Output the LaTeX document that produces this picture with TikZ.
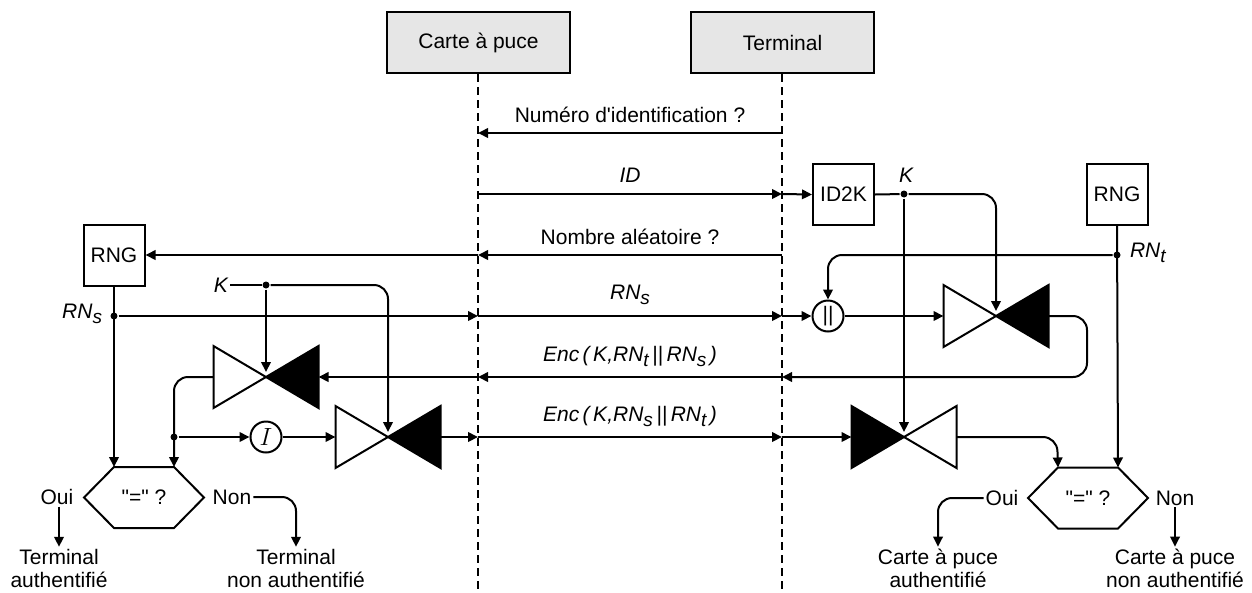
\documentclass[tikz,border=0pt]{standalone}
\usepackage{fontspec}
\setmainfont{Liberation Sans}[Ligatures=TeXOff]
\usetikzlibrary{arrows.meta,calc}
\newcommand\sbs[1]{\raisebox{-5pt}{\fontsize{19}{19}\selectfont #1}}
\definecolor{hdrgray}{RGB}{230,230,230}
\tikzset{
  hdr/.style={draw, fill=hdrgray, minimum width=183pt, minimum height=61pt, inner sep=0pt},
  blk/.style={draw, fill=white, minimum width=61pt, minimum height=61pt, inner sep=0pt},
  jdot/.style={circle, fill=black, inner sep=0pt, minimum size=7pt},
  opc/.style={circle, draw, fill=white, minimum size=31pt, inner sep=0pt},
  lbl/.style={inner sep=1pt},
  lifeline/.style={dash pattern=on 8pt off 5pt},
  enc/.pic={
    \draw[fill=white] (-52.5,-31) -- (-52.5,31) -- (0,0) -- cycle;
    \draw[fill=black] (52.5,-31) -- (52.5,31) -- (0,0) -- cycle;
    \coordinate (-l) at (-52.5,0);
    \coordinate (-r) at (52.5,0);
    \coordinate (-top) at (0,-5);
  },
  dec/.pic={
    \draw[fill=black] (-52.5,-31) -- (-52.5,31) -- (0,0) -- cycle;
    \draw[fill=white] (52.5,-31) -- (52.5,31) -- (0,0) -- cycle;
    \coordinate (-l) at (-52.5,0);
    \coordinate (-r) at (52.5,0);
    \coordinate (-top) at (0,-5);
  },
  hexa/.pic={
    \draw (-30,-30.5) -- (30,-30.5) -- (60,0) -- (30,30.5) -- (-30,30.5) -- (-60,0) -- cycle;
    \coordinate (-tl) at (-30,-30.5);
    \coordinate (-tr) at (30,-30.5);
  }
}
\begin{document}
\begin{tikzpicture}[x=1pt,y=-1pt, line width=2pt, line join=miter,
  >={Triangle[length=10pt,width=9.5pt]},
  font=\fontsize{21}{23}\selectfont, rounded corners=0pt]
\useasboundingbox (0,0) rectangle (1252,592);

% headers and lifelines
\node[hdr] (cp) at (478.5,42.5) {Carte à puce};
\node[hdr] (tm) at (782.5,42.5) {Terminal};
\coordinate (cpb) at (478,592);
\coordinate (tmb) at (782,592);
\draw[lifeline] (cp.south -| cpb) -- (cpb);
\draw[lifeline] (tm.south -| tmb) -- (tmb);

% lifeline crossing points
\coordinate (c1) at (478,133); \coordinate (t1) at (782,133);
\coordinate (c2) at (478,194); \coordinate (t2) at (782,194);
\coordinate (c3) at (478,255); \coordinate (t3) at (782,255);
\coordinate (c4) at (478,316); \coordinate (t4) at (782,316);
\coordinate (c5) at (478,377); \coordinate (t5) at (782,377);
\coordinate (c6) at (478,437); \coordinate (t6) at (782,437);

% message labels
\node[lbl] (m1) at (630,115) {Numéro d'identification ?};
\node[lbl] (m2) at (630,175) {\itshape ID};
\node[lbl] (m3) at (630,237) {Nombre aléatoire ?};
\node[lbl] (m4) at (630,295) {\itshape RN\sbs{s}};
\node[lbl] (m5) at (630,356) {\itshape Enc\,(\,K,RN\sbs{t}\,||\,RN\sbs{s}\,)};
\node[lbl] (m6) at (630,416) {\itshape Enc\,(\,K,RN\sbs{s}\,||\,RN\sbs{t}\,)};

% ---------- left side (card) ----------
\node[blk] (rngL) at (114,255) {RNG};
\node[jdot] (rnsd) at (114,316) {};
\node[lbl, anchor=east] (rnsl) at (104,314) {\itshape RN\sbs{s}};
\node[lbl] (kL) at (221,285) {\itshape K};
\node[jdot] (kLd) at (266,285) {};
\pic (decL) at (266,377) {enc};
\pic (encL) at (388,437) {enc};
\node[opc] (ic) at (266,437) {\fontsize{24}{24}\selectfont$I$};
\node[jdot] (jd) at (174,437) {};
\pic (h1) at (144,497.5) {hexa};
\node[lbl] (q1) at (144,497.5) {"=" ?};
\node[lbl] (oui1) at (57,497) {Oui};
\node[lbl] (non1) at (232,497) {Non};
\node[lbl, align=center] (r1) at (59,568) {Terminal\\authentifié};
\node[lbl, align=center] (r2) at (296,568) {Terminal\\non authentifié};

% ---------- right side (terminal) ----------
\node[blk] (id2k) at (843.5,194.5) {ID2K};
\node[jdot] (kRd) at (904,194) {};
\node[lbl] (kR) at (906,175) {\itshape K};
\node[blk] (rngR) at (1117,194.5) {RNG};
\node[jdot] (rntd) at (1117,255) {};
\node[lbl, anchor=west] (rntl) at (1128,253) {\itshape RN\sbs{t}};
\node[opc] (cat) at (828,316) {||};
\pic (encT) at (996,316) {enc};
\pic (decT) at (904,437) {dec};
\pic (h2) at (1088,498) {hexa};
\node[lbl] (q2) at (1088,498) {"=" ?};
\node[lbl] (oui2) at (1002,498) {Oui};
\node[lbl] (non2) at (1175,498) {Non};
\node[lbl, align=center] (r3) at (938,568) {Carte à puce\\authentifié};
\node[lbl, align=center] (r4) at (1175,568) {Carte à puce\\non authentifié};

% ---------- messages ----------
\draw[->] (t1) -- (c1);
\draw[->] (c2) -- (t2);
\draw[->] (t2) -- (id2k.west);
\draw[->] (t3) -- (c3);
\draw[->] (c3) -- (rngL.east);
\draw[->] (rnsd) -- (c4);
\draw[->] (c4) -- (t4);
\draw[->] (t4) -- (cat.west);
\draw[->] (cat.east) -- (encT-l);
\draw[->, rounded corners=14pt] (encT-r) -- (1087,316) -- (1087,377) -- (t5);
\draw[->] (t5) -- (c5);
\draw[->] (c5) -- (decL-r);
\draw[->] (encL-r) -- (c6);
\draw[->] (c6) -- (t6);
\draw[->] (t6) -- (decT-l);

% ---------- left internal wiring ----------
\draw[->] (rngL.south) -- (h1-tl);
\draw (kL.east) -- (kLd);
\draw[->] (kLd) -- (decL-top);
\draw[->, rounded corners=14pt] (kLd) -- (388,285) -- (encL-top);
\draw[->, rounded corners=14pt] (decL-l) -- (174,377) -- (h1-tr);
\draw[->] (jd) -- (ic.west);
\draw[->] (ic.east) -- (encL-l);
\draw[->] (oui1.south -| r1.north) -- (r1.north);
\draw[->, rounded corners=14pt] (non1.east) -- (296,497) -- (r2.north);

% ---------- right internal wiring ----------
\draw (id2k.east) -- (kRd);
\draw[->] (kRd) -- (decT-top);
\draw[->, rounded corners=14pt] (kRd) -- (996,194) -- (encT-top);
\draw[->] (rngR.south) -- (h2-tr);
\draw[->, rounded corners=14pt] (rntd) -- (828,255) -- (cat.north);
\draw[->, rounded corners=14pt] (decT-r) -- (1057,437) -- (h2-tl);
\draw[->, rounded corners=14pt] (oui2.west) -- (938,498) -- (r3.north);
\draw[->] (non2.south) -- (non2.south |- r4.north);
\end{tikzpicture}
\end{document}
